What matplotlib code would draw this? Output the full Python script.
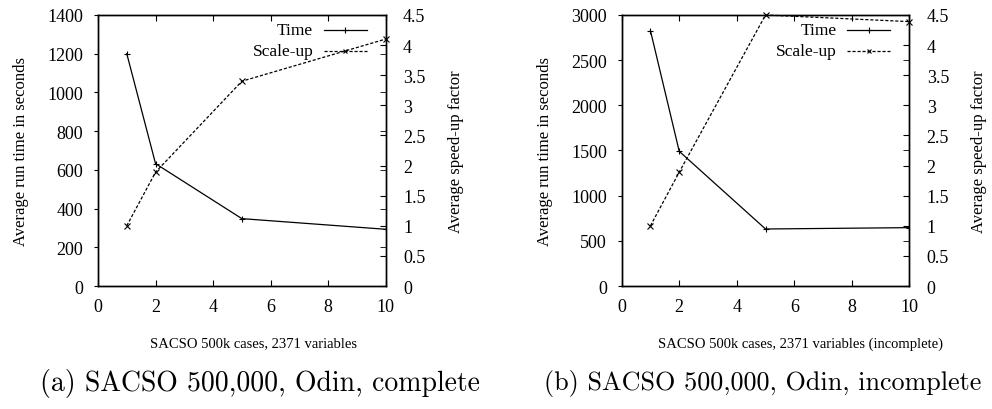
import matplotlib
matplotlib.use('Agg')
import matplotlib.pyplot as plt

# data
procs = [1, 2, 5, 10]
time_complete = [1200, 632, 348, 293]
speedup_complete = [1.0, 1.89, 3.40, 4.10]
time_incomplete = [2826, 1491, 631, 646]
speedup_incomplete = [1.0, 1.89, 4.50, 4.39]

xlabels = ['SACSO 500k cases, 2371 variables',
           'SACSO 500k cases, 2371 variables (incomplete)']
captions = ['(a) SACSO 500,000, Odin, complete',
            '(b) SACSO 500,000, Odin, incomplete']
time_ylims = [(0, 1400), (0, 3000)]
time_yticks = [range(0, 1401, 200), range(0, 3001, 500)]
speed_yticks = [0, 0.5, 1, 1.5, 2, 2.5, 3, 3.5, 4, 4.5]
speed_ticklabels = ['0', '0.5', '1', '1.5', '2', '2.5', '3', '3.5', '4', '4.5']

plt.rcParams['font.family'] = ['Liberation Serif', 'DejaVu Serif']
plt.rcParams['font.size'] = 12

fig = plt.figure(figsize=(9.92, 4.10), dpi=100)
fig.patch.set_facecolor('white')

lefts = [0.0988, 0.6267]
xlab_pos = [0.54, 0.62]
caption_x = [0.040, 0.548]
caption_size = [20, 18.8]


def draw_panel(i, times, speeds):
    ax = fig.add_axes([lefts[i], 0.300, 0.290, 0.661])
    ax2 = ax.twinx()
    ax.set_xlim(0, 10)
    ax.set_ylim(*time_ylims[i])
    ax2.set_ylim(0, 4.5)
    ax.set_xticks([0, 2, 4, 6, 8, 10])
    ax.set_yticks(list(time_yticks[i]))
    ax2.set_yticks(speed_yticks)
    ax2.set_yticklabels(speed_ticklabels)
    for a in (ax, ax2):
        for s in a.spines.values():
            s.set_linewidth(1.0)
    ax.tick_params(axis='x', which='both', direction='in', top=True, length=4, pad=9,
                   labelsize=13)
    ax.tick_params(axis='y', direction='out', left=True, right=False, length=3, pad=7.5,
                   labelsize=13)
    ax2.tick_params(axis='y', direction='in', length=4, pad=12.5, labelsize=13)
    # mirrored time ticks on the right spine
    ax2.set_yticks([v / time_ylims[i][1] * 4.5 for v in time_yticks[i]], minor=True)
    ax2.tick_params(axis='y', which='minor', direction='in', length=4)

    ax.plot(procs, times, color='black', lw=0.9, marker='+', ms=5, mew=0.8)
    ax2.plot(procs, speeds, color='black', lw=0.9, ls=(0, (2.5, 1.5)), marker='x',
             ms=4, mew=0.8, clip_on=False)

    ax.set_ylabel('Average run time in seconds', labelpad=13)
    ax2.set_ylabel('Average speed-up factor', labelpad=16)
    ax.set_xlabel(xlabels[i], fontsize=10.5)
    ax.xaxis.set_label_coords(xlab_pos[i], -0.185)

    # gnuplot style key: right-aligned text, sample line on its right
    ax.text(0.748, 0.945, 'Time', transform=ax.transAxes, ha='right', va='center',
            fontsize=12.5)
    ax.plot([0.784, 0.934], [0.945, 0.945], transform=ax.transAxes, color='black', lw=0.9)
    ax.plot([0.86], [0.945], transform=ax.transAxes, color='black', marker='+', ms=4, mew=0.8)
    ax.text(0.748, 0.867, 'Scale-up', transform=ax.transAxes, ha='right', va='center',
            fontsize=12.5)
    ax.plot([0.784, 0.934], [0.867, 0.867], transform=ax.transAxes, color='black', lw=0.9,
            ls=(0, (2.5, 1.5)))
    ax.plot([0.86], [0.867], transform=ax.transAxes, color='black', marker='x', ms=3.5, mew=0.8)

    fig.text(caption_x[i], 0.065, captions[i], family=['cmr10', 'DejaVu Serif'],
             fontsize=caption_size[i], ha='left', va='center')


draw_panel(0, time_complete, speedup_complete)
draw_panel(1, time_incomplete, speedup_incomplete)

fig.savefig('out.png', dpi=100)
